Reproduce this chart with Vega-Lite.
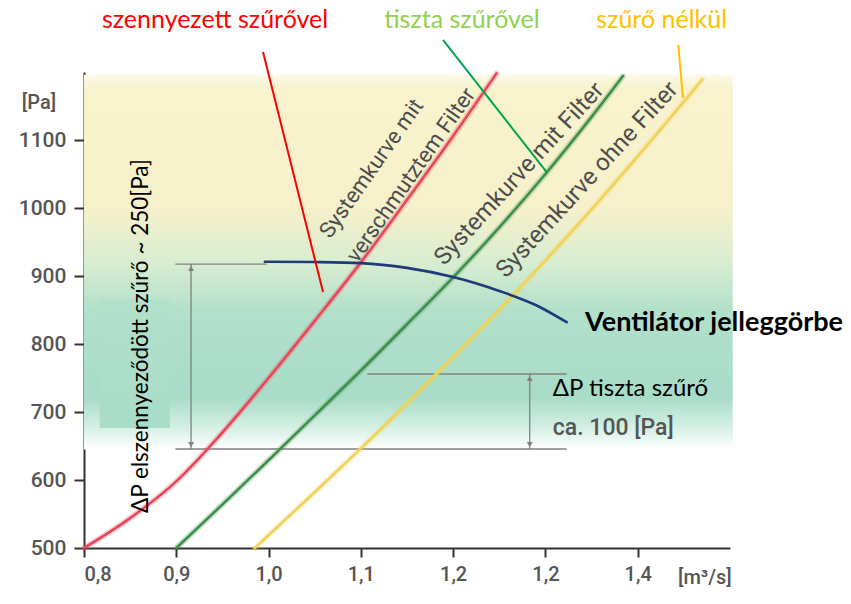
{
  "$schema": "https://vega.github.io/schema/vega-lite/v6.json",
  "width": 646,
  "height": 476,
  "autosize": "none",
  "padding": {"left": 84, "top": 72, "right": 121, "bottom": 56},
  "background": "white",
  "config": {"view": {"stroke": null}},
  "datasets": {
    "curves": [
      {"series": "dirty", "x": 0.80, "y": 500},
      {"series": "dirty", "x": 0.85, "y": 544},
      {"series": "dirty", "x": 0.90, "y": 598},
      {"series": "dirty", "x": 0.95, "y": 670},
      {"series": "dirty", "x": 1.00, "y": 750},
      {"series": "dirty", "x": 1.05, "y": 834},
      {"series": "dirty", "x": 1.10, "y": 920},
      {"series": "dirty", "x": 1.15, "y": 1012},
      {"series": "dirty", "x": 1.20, "y": 1106},
      {"series": "dirty", "x": 1.247, "y": 1198},
      {"series": "clean", "x": 0.90, "y": 500},
      {"series": "clean", "x": 0.95, "y": 564},
      {"series": "clean", "x": 1.00, "y": 629},
      {"series": "clean", "x": 1.05, "y": 695},
      {"series": "clean", "x": 1.10, "y": 761},
      {"series": "clean", "x": 1.15, "y": 829},
      {"series": "clean", "x": 1.20, "y": 898},
      {"series": "clean", "x": 1.25, "y": 971.5},
      {"series": "clean", "x": 1.30, "y": 1050},
      {"series": "clean", "x": 1.35, "y": 1134},
      {"series": "clean", "x": 1.384, "y": 1194},
      {"series": "none", "x": 0.985, "y": 500},
      {"series": "none", "x": 1.05, "y": 582},
      {"series": "none", "x": 1.10, "y": 646.5},
      {"series": "none", "x": 1.15, "y": 712.5},
      {"series": "none", "x": 1.20, "y": 780.5},
      {"series": "none", "x": 1.25, "y": 850.5},
      {"series": "none", "x": 1.30, "y": 923},
      {"series": "none", "x": 1.35, "y": 998},
      {"series": "none", "x": 1.40, "y": 1076},
      {"series": "none", "x": 1.47, "y": 1189},
      {"series": "fan", "x": 0.996, "y": 921},
      {"series": "fan", "x": 1.05, "y": 920.5},
      {"series": "fan", "x": 1.10, "y": 919},
      {"series": "fan", "x": 1.15, "y": 912},
      {"series": "fan", "x": 1.20, "y": 898.5},
      {"series": "fan", "x": 1.25, "y": 878},
      {"series": "fan", "x": 1.29, "y": 857},
      {"series": "fan", "x": 1.323, "y": 832}
    ],
    "pointers": [
      {"series": "p_dirty", "x": 0.994, "y": 1229.4},
      {"series": "p_dirty", "x": 1.059, "y": 876.5},
      {"series": "p_clean", "x": 1.189, "y": 1247.1},
      {"series": "p_clean", "x": 1.302, "y": 1051.5},
      {"series": "p_none", "x": 1.444, "y": 1239.7},
      {"series": "p_none", "x": 1.449, "y": 1161.8}
    ]
  },
  "encoding": {
    "x": {"field": "x", "type": "quantitative",
      "scale": {"domain": [0.8, 1.5], "nice": false, "zero": false},
      "axis": {"title": null, "values": [0.8, 0.9, 1.0, 1.1, 1.2, 1.3, 1.4],
        "labelExpr": "abs(datum.value-1.3)<0.001 ? '1,2' : replace(format(datum.value,'.1f'),'.',',')",
        "grid": false, "domainColor": "#333", "domainWidth": 2, "tickColor": "#333", "tickWidth": 2, "tickSize": 9,
        "labelFont": "Roboto", "labelFontSize": 20, "labelFontWeight": 500, "labelColor": "#555", "labelPadding": 7}},
    "y": {"field": "y", "type": "quantitative",
      "scale": {"domain": [500, 1200], "nice": false, "zero": false},
      "axis": {"title": null, "values": [500, 600, 700, 800, 900, 1000, 1100], "format": "d",
        "grid": false, "domainColor": "#333", "domainWidth": 2, "tickColor": "#333", "tickWidth": 2, "tickSize": 10,
        "labelFont": "Roboto", "labelFontSize": 21, "labelFontWeight": 500, "labelColor": "#555", "labelPadding": 8}}
  },
  "layer": [
    {
      "data": {"values": [{"x": 0.8, "x2": 1.503, "y": 1196, "y2": 645}]},
      "mark": {"type": "rect", "fill": {"gradient": "linear", "x1": 0, "y1": 0, "x2": 0, "y2": 1,
        "stops": [
          {"offset": 0, "color": "#fcf9e6"},
          {"offset": 0.04, "color": "#f8f2cd"},
          {"offset": 0.36, "color": "#f6f0cb"},
          {"offset": 0.5, "color": "#d8edd0"},
          {"offset": 0.63, "color": "#b2e0cb"},
          {"offset": 0.86, "color": "#a8dcc8"},
          {"offset": 0.94, "color": "#d3efe3"},
          {"offset": 1, "color": "#ffffff"}]}},
      "encoding": {"x2": {"field": "x2"}, "y2": {"field": "y2"}}
    },
    {
      "data": {"values": [{"x": 0.817, "x2": 0.893, "y": 865, "y2": 676.5}]},
      "mark": {"type": "rect", "fill": {"gradient": "linear", "x1": 0, "y1": 0, "x2": 0, "y2": 1,
        "stops": [{"offset": 0, "color": "#b2e0cb"}, {"offset": 1, "color": "#a8dcc8"}]}},
      "encoding": {"x2": {"field": "x2"}, "y2": {"field": "y2"}}
    },
    {
      "data": {"values": [
        {"x": 0.899, "x2": 0.998, "y": 917.6},
        {"x": 0.899, "x2": 1.323, "y": 645.6},
        {"x": 1.107, "x2": 1.323, "y": 755.9}]},
      "mark": {"type": "rule", "color": "#808080", "strokeWidth": 1.3},
      "encoding": {"x2": {"field": "x2"}}
    },
    {
      "data": {"values": [
        {"x": 0.916, "y": 917.6, "y2": 645.6},
        {"x": 1.283, "y": 755.9, "y2": 645.6}]},
      "mark": {"type": "rule", "color": "#808080", "strokeWidth": 1.3},
      "encoding": {"y2": {"field": "y2"}}
    },
    {
      "data": {"values": [
        {"x": 0.916, "y": 911, "dir": "up"},
        {"x": 0.916, "y": 652, "dir": "down"},
        {"x": 1.283, "y": 749.5, "dir": "up"},
        {"x": 1.283, "y": 652, "dir": "down"}]},
      "mark": {"type": "point", "filled": true, "color": "#808080", "size": 35, "opacity": 1},
      "encoding": {"shape": {"field": "dir", "type": "nominal", "legend": null,
        "scale": {"domain": ["up", "down"], "range": ["triangle-up", "triangle-down"]}}}
    },
    {
      "data": {"name": "curves"},
      "transform": [{"filter": "datum.series != 'fan'"}],
      "mark": {"type": "line", "interpolate": "monotone", "strokeWidth": 6, "opacity": 0.25, "strokeCap": "round"},
      "encoding": {"detail": {"field": "series"},
        "color": {"field": "series", "type": "nominal", "legend": null,
          "scale": {"domain": ["dirty", "clean", "none", "fan", "p_dirty", "p_clean", "p_none"],
            "range": ["#e8475a", "#3f8f4c", "#efd257", "#1f3a78", "#ff0000", "#00a550", "#ffc000"]}}}
    },
    {
      "data": {"name": "curves"},
      "mark": {"type": "line", "interpolate": "monotone", "strokeWidth": 2.6, "strokeCap": "round"},
      "encoding": {"detail": {"field": "series"},
        "color": {"field": "series", "type": "nominal", "legend": null},
        "strokeWidth": {"condition": {"test": "datum.series == 'fan'", "value": 3.2}, "value": 2.6}}
    },
    {
      "data": {"name": "pointers"},
      "mark": {"type": "line", "strokeWidth": 2},
      "encoding": {"detail": {"field": "series"},
        "color": {"field": "series", "type": "nominal", "legend": null}}
    },
    {
      "data": {"values": [{"x": 0.942, "y": 1276.5, "t": "szennyezett szűrővel"}]},
      "mark": {"type": "text", "font": "Lato", "fontSize": 25, "color": "#ff0000", "align": "center", "baseline": "middle"},
      "encoding": {"text": {"field": "t"}}
    },
    {
      "data": {"values": [{"x": 1.2095, "y": 1276.5, "t": "tiszta szűrővel"}]},
      "mark": {"type": "text", "font": "Lato", "fontSize": 25, "color": "#92d050", "align": "center", "baseline": "middle"},
      "encoding": {"text": {"field": "t"}}
    },
    {
      "data": {"values": [{"x": 1.426, "y": 1276.5, "t": "szűrő nélkül"}]},
      "mark": {"type": "text", "font": "Lato", "fontSize": 25, "color": "#ffc000", "align": "center", "baseline": "middle"},
      "encoding": {"text": {"field": "t"}}
    },
    {
      "data": {"values": [{"x": 1.343, "y": 830.9, "t": "Ventilátor jelleggörbe"}]},
      "mark": {"type": "text", "font": "Lato", "fontSize": 27, "fontWeight": "bold", "color": "#000000", "align": "left", "baseline": "middle"},
      "encoding": {"text": {"field": "t"}}
    },
    {
      "data": {"values": [{"x": 1.308, "y": 733.8, "t": "ΔP tiszta szűrő"}]},
      "mark": {"type": "text", "font": "Lato", "fontSize": 24, "color": "#000000", "align": "left", "baseline": "middle"},
      "encoding": {"text": {"field": "t"}}
    },
    {
      "data": {"values": [{"x": 1.308, "y": 676.5, "t": "ca. 100 [Pa]"}]},
      "mark": {"type": "text", "font": "Roboto", "fontSize": 23, "fontWeight": 500, "color": "#555555", "align": "left", "baseline": "middle"},
      "encoding": {"text": {"field": "t"}}
    },
    {
      "data": {"values": [{"x": 0.8618, "y": 551.5, "t": "ΔP elszennyeződött szűrő ~ 250[Pa]"}]},
      "mark": {"type": "text", "font": "Lato", "fontSize": 22.5, "color": "#000000", "align": "left", "baseline": "middle", "angle": 270},
      "encoding": {"text": {"field": "t"}}
    },
    {
      "data": {"values": [{"x": 1.1115, "y": 1058.1, "t": "Systemkurve mit"}, {"x": 1.1543, "y": 1048.5, "t": "verschmutztem Filter"}]},
      "mark": {"type": "text", "font": "Roboto", "fontSize": 22, "color": "#4d4d4d", "align": "center", "baseline": "middle", "angle": -55},
      "encoding": {"text": {"field": "t"}}
    },
    {
      "data": {"values": [{"x": 1.2718, "y": 1050, "t": "Systemkurve mit Filter"}]},
      "mark": {"type": "text", "font": "Roboto", "fontSize": 24, "color": "#4d4d4d", "align": "center", "baseline": "middle", "angle": -47.5},
      "encoding": {"text": {"field": "t"}}
    },
    {
      "data": {"values": [{"x": 1.3455, "y": 1041.2, "t": "Systemkurve ohne Filter"}]},
      "mark": {"type": "text", "font": "Roboto", "fontSize": 24, "color": "#4d4d4d", "align": "center", "baseline": "middle", "angle": -47.5},
      "encoding": {"text": {"field": "t"}}
    },
    {
      "data": {"values": [{"x": 0.7512, "y": 1154.4, "t": "[Pa]"}, {"x": 1.4728, "y": 455.9, "t": "[m³/s]"}]},
      "mark": {"type": "text", "font": "Roboto", "fontSize": 20, "fontWeight": 500, "color": "#555555", "align": "center", "baseline": "middle"},
      "encoding": {"text": {"field": "t"}}
    }
  ]
}
